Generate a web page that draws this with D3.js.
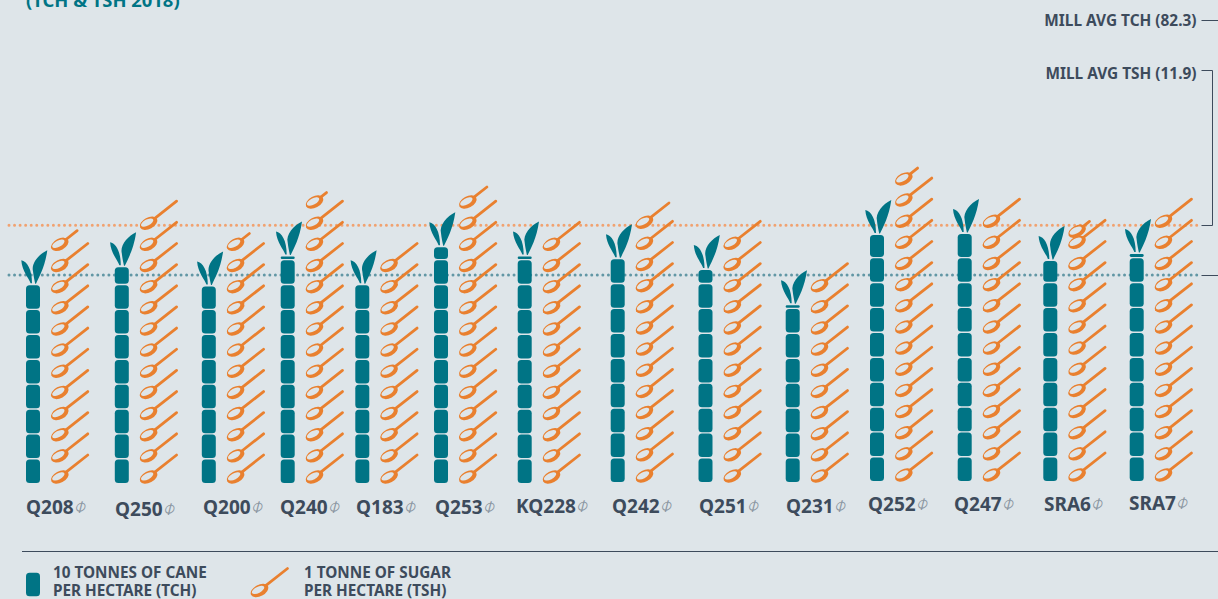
<!doctype html>
<html>
<head>
<meta charset="utf-8">
<script src="https://d3js.org/d3.v7.min.js"></script>
<style>
	html, body { margin: 0; padding: 0; background: #dee5e9; overflow: hidden; }
	svg { display: block; }
	text { font-family: "Noto Sans", Lato, sans-serif; font-weight: 700; fill: #3d4b5c; }
	.legendtext { font-size: 15.3px; }
	.mill { font-size: 15.4px; }
	.name { font-size: 19px; }
	.pbr { font-family: "DejaVu Sans"; font-weight: 400; font-size: 21px; font-style: italic; fill: #8b96a1; }
</style>
</head>
<body>
<script>
// values
var varieties = ["Q208","Q250","Q200","Q240","Q183","Q253","KQ228","Q242","Q251","Q231","Q252","Q247","SRA6","SRA7"];
var tch = [80,87,79.5,91,80,95,91,90,85.5,71,99.3,99.7,88.9,91.2];
var tsh = [11.7,13,11.6,13.55,11,13.75,12,12.9,12,10,14.6,13,12.56,13];
var millTch = 82.3;
var millTsh = 11.9;
var millLabels = ["MILL AVG TCH (82.3)","MILL AVG TSH (11.9)"];
var legendCane = ["10 TONNES OF CANE","PER HECTARE (TCH)"];
var legendSugar = ["1 TONNE OF SUGAR","PER HECTARE (TSH)"];
var title = "(TCH & TSH 2018)";

// layout, the columns are not evenly spaced in the original
var caneX = [33,121.8,208.8,287.7,362.3,441,524.7,617.7,705.5,792.7,877,964.7,1050.3,1136.7];
var columnBase = [483,483,483,483,483,483,483,482,482,482,481,481,481,481];
var nameX = [26,115,203,280,356,435,516,612,699,786,868,954,1044,1129];
var nameY = [514,516,514,514,514,514,513,513,513,513,511,511,511,510];
var topSpoonDrop = [0,0,0,0,0,0,0,0,0,0,0,0,10,0];

var width = 1218, height = 599;
var teal = "#007485", orange = "#e9802f", ink = "#3d4b5c", bg = "#dee5e9";

var x = d3.scaleOrdinal().domain(varieties).range(caneX);
var base = d3.scaleOrdinal().domain(varieties).range(columnBase);
var nx = d3.scaleOrdinal().domain(varieties).range(nameX);
var ny = d3.scaleOrdinal().domain(varieties).range(nameY);

var tchPx = d3.scaleLinear().domain([0,10]).range([0,24.9]);
var tshPx = d3.scaleLinear().domain([0,1]).range([0,21.15]);
var segH = 23.5;

var svg = d3.select("body").append("svg").attr("width",width).attr("height",height);
svg.append("rect").attr("width",width).attr("height",height).attr("fill",bg);

svg.append("text").attr("x",26).attr("y",7).style("font-size","18.4px").style("fill",teal).text(title);

// mill average lines
function dotted(y,color){
	svg.append("line").attr("x1",9).attr("x2",1197).attr("y1",y).attr("y2",y)
		.attr("stroke",color).attr("stroke-width",3).attr("stroke-linecap","round").attr("stroke-dasharray","0 5.55");
}
var yTch = 483 - tchPx(millTch) - 3;
var yTsh = 483 - tshPx(millTsh) - 6;
dotted(yTsh,"#f1a270");
dotted(yTch,"#6297a5");

var conn = svg.append("g").attr("stroke",ink).attr("stroke-width",1).attr("fill","none");
conn.append("path").attr("d","M1201.5,20.5H1218");
conn.append("path").attr("d","M1201.5,70.5H1212.5V"+(Math.round(yTsh)+.5)+"H1201.5");
conn.append("path").attr("d","M1201.5,"+(Math.round(yTch)+.5)+"H1218");

svg.selectAll(".mill").data(millLabels).enter().append("text").attr("class","mill")
	.attr("text-anchor","end").attr("x",1196.5).attr("y",function(d,i){return i==0?25.5:78.5}).text(function(d){return d});

function segmentsOf(v){
	var out = [], full = Math.floor(v/10);
	for(var i=0;i<full;i++) out.push({i:i,h:segH});
	var rest = v/10-full;
	if(rest>0.001) out.push({i:full,h:rest*segH});
	return out;
}
function canePos(v,b){
	// y of the top of the topmost segment
	var s = segmentsOf(v), last = s[s.length-1];
	return b - tchPx(last.i*10) - last.h;
}
function spoon(g,f){
	// origin at the middle of the bowl, f is how much of the spoon is shown
	var ex = -7.5 + 35.5*f, ey = -(ex/28)*22;
	g.append("line").attr("x1",4).attr("y1",-3.1).attr("x2",ex).attr("y2",ey)
		.attr("stroke",orange).attr("stroke-width",2.8).attr("stroke-linecap","round");
	g.append("ellipse").attr("rx",9.5).attr("ry",5.7).attr("transform","rotate(-28)").attr("fill",orange);
	g.append("ellipse").attr("cx",-1).attr("cy",-1.2).attr("rx",6.8).attr("ry",3.1).attr("transform","rotate(-28)").attr("fill",bg);
}
function leaves(g){
	g.append("path").attr("fill",teal).attr("d","M-11.7,-25C-6,-24 -1,-16 -1,-2L-2.4,-2C-4,-7 -11,-14 -11.7,-25Z");
	g.append("path").attr("fill",teal).attr("d","M14.3,-35C6,-31 -2,-22 0,-14C0.5,-9 1.5,-5 2.2,-1.5L3,-1.5C6,-8 12,-18 14.3,-35Z");
}

var col = svg.selectAll(".col").data(varieties).enter().append("g").attr("class","col");

col.each(function(name,k){
	var g = d3.select(this), b = base(name), cx = x(name);

	g.selectAll(".seg").data(segmentsOf(tch[k])).enter().append("rect").attr("class","seg")
		.attr("x",cx-7).attr("width",14)
		.attr("y",function(d){return b-tchPx(d.i*10)-d.h})
		.attr("height",function(d){return d.h})
		.attr("rx",function(d){return Math.min(3.5,d.h/2)})
		.attr("fill",teal);

	leaves(g.append("g").attr("transform","translate("+cx+","+canePos(tch[k],b)+")"));

	// spoons, the bowl of the lowest one sits 6px over the foot of the column
	var n = Math.ceil(tsh[k]-1e-6);
	for(var i=0;i<n;i++){
		var f = Math.min(1,tsh[k]-i);
		var drop = i==n-1 ? topSpoonDrop[k] : 0;
		spoon(g.append("g").attr("transform","translate("+(cx+26.8)+","+(b-6-tshPx(i)+drop)+")"),f);
	}

	var t = g.append("text").attr("class","name").attr("x",nx(name)).attr("y",ny(name)).text(name);
	t.append("tspan").attr("class","pbr").attr("dx",-1).attr("dy",-1).text("\u233D");
});

// legend
svg.append("line").attr("x1",22).attr("x2",1218).attr("y1",551.5).attr("y2",551.5).attr("stroke",ink).attr("stroke-width",1);
svg.append("rect").attr("x",26).attr("y",572.7).attr("width",14).attr("height",segH).attr("rx",3.5).attr("fill",teal);
spoon(svg.append("g").attr("transform","translate(259.5,590.5)"),1);

svg.selectAll(".lc").data(legendCane).enter().append("text").attr("class","legendtext lc")
	.attr("x",53).attr("y",function(d,i){return 577.5+i*18.5}).text(function(d){return d});
svg.selectAll(".ls").data(legendSugar).enter().append("text").attr("class","legendtext ls")
	.attr("x",304).attr("y",function(d,i){return 577.5+i*18.5}).text(function(d){return d});
</script>
</body>
</html>
